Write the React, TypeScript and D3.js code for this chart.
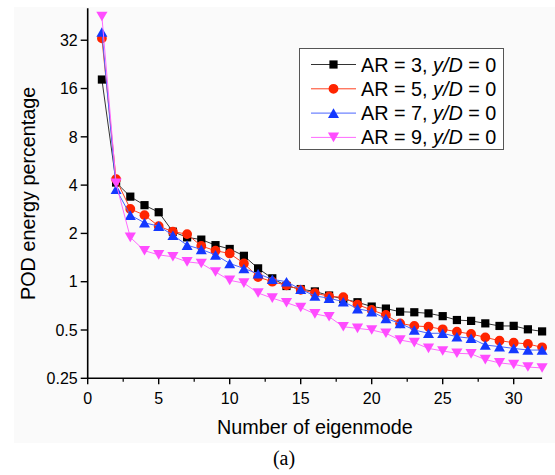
import React from "react";
import * as d3 from "d3";

// Eigenmode index (x) and POD energy percentage for each aspect ratio
const modes = [1, 2, 3, 4, 5, 6, 7, 8, 9, 10, 11, 12, 13, 14, 15, 16, 17, 18, 19, 20, 21, 22, 23, 24, 25, 26, 27, 28, 29, 30, 31, 32];

const ar3 = [18.2, 4.15, 3.39, 3.0, 2.71, 2.05, 1.89, 1.83, 1.69, 1.6, 1.45, 1.21, 1.05, 0.94, 0.9, 0.87, 0.82, 0.78, 0.745, 0.7, 0.68, 0.65, 0.645, 0.635, 0.61, 0.577, 0.57, 0.55, 0.53, 0.53, 0.505, 0.49];
const ar5 = [32.9, 4.35, 2.84, 2.6, 2.22, 2.05, 1.98, 1.67, 1.56, 1.5, 1.3, 1.07, 1.0, 0.95, 0.89, 0.85, 0.81, 0.8, 0.72, 0.666, 0.62, 0.55, 0.53, 0.524, 0.505, 0.488, 0.472, 0.45, 0.429, 0.417, 0.409, 0.39];
const ar7 = [36, 3.77, 2.6, 2.33, 2.22, 1.95, 1.69, 1.59, 1.47, 1.3, 1.21, 1.12, 1.035, 1.0, 0.897, 0.815, 0.79, 0.75, 0.68, 0.65, 0.59, 0.55, 0.5, 0.477, 0.477, 0.454, 0.444, 0.403, 0.394, 0.384, 0.375, 0.375];
const ar9 = [45, 4.1, 1.89, 1.56, 1.47, 1.43, 1.33, 1.3, 1.15, 1.02, 0.98, 0.85, 0.79, 0.74, 0.69, 0.63, 0.605, 0.524, 0.512, 0.5, 0.477, 0.433, 0.417, 0.384, 0.37, 0.358, 0.355, 0.327, 0.312, 0.305, 0.294, 0.29];

const aspectRatios = ["3", "5", "7", "9"];
const yTicks = [0.25, 0.5, 1, 2, 4, 8, 16, 32];
const xMajorTicks = [0, 5, 10, 15, 20, 25, 30];
const xMinorTicks = [2.5, 7.5, 12.5, 17.5, 22.5, 27.5];

type Shape = "square" | "circle" | "triangle" | "invTriangle";

const series: { values: number[]; ar: string; marker: string; line: string; shape: Shape }[] = [
  { values: ar3, ar: aspectRatios[0], marker: "#000000", line: "#333333", shape: "square" },
  { values: ar5, ar: aspectRatios[1], marker: "#ff2400", line: "#ff4020", shape: "circle" },
  { values: ar7, ar: aspectRatios[2], marker: "#1438ff", line: "#4a66ff", shape: "triangle" },
  { values: ar9, ar: aspectRatios[3], marker: "#ff4cff", line: "#ff6aff", shape: "invTriangle" },
];

const W = 555;
const H = 475;
const left = 87.7;
const right = 542.1;
const top = 8.3;
const bottom = 378.3;

const x = d3.scaleLinear().domain([0, 32]).range([left, right]);
const y = d3.scaleLog().base(2).domain([0.25, 50.6]).range([bottom, top]);

const FONT = "'Liberation Sans', Arial, Helvetica, sans-serif";

function markerPath(shape: Shape, cx: number, cy: number): string {
  if (shape === "square") {
    const h = 4.1;
    return `M${cx - h},${cy - h}h${2 * h}v${2 * h}h${-2 * h}Z`;
  }
  if (shape === "circle") {
    const r = 4.9;
    return `M${cx - r},${cy}a${r},${r} 0 1,0 ${2 * r},0a${r},${r} 0 1,0 ${-2 * r},0Z`;
  }
  if (shape === "triangle") {
    const w = 5.5;
    const h = 4.8;
    return `M${cx},${cy - h}L${cx + w},${cy + h}L${cx - w},${cy + h}Z`;
  }
  const w = 5.6;
  const h = 4.8;
  return `M${cx - w},${cy - h}L${cx + w},${cy - h}L${cx},${cy + h}Z`;
}

export default function App() {
  const line = d3
    .line<number>()
    .x((_, i) => x(modes[i]))
    .y((d) => y(d));

  const legendX = 299.5;
  const legendY = 48.5;
  const rowY = (i: number) => 64.5 + i * 24.3;

  return (
    <svg
      width={W}
      height={H}
      viewBox={`0 0 ${W} ${H}`}
      style={{ position: "absolute", left: 0, top: 0, background: "#ffffff" }}
    >
      <rect x={14} y={7} width={W - 14} height={436} fill="#fafafa" />

      {/* data series: lines then markers */}
      {series.map((s, si) => (
        <g key={si}>
          <path d={line(s.values) || ""} fill="none" stroke={s.line} strokeWidth={1} />
          {s.values.map((v, i) => (
            <path key={i} d={markerPath(s.shape, x(modes[i]), y(v))} fill={s.marker} />
          ))}
        </g>
      ))}

      {/* axes */}
      <line x1={left} y1={top} x2={left} y2={bottom} stroke="#000" strokeWidth={1.6} />
      <line x1={left} y1={bottom} x2={right} y2={bottom} stroke="#000" strokeWidth={1.6} />

      {yTicks.map((t) => (
        <g key={t}>
          <line x1={left - 7} x2={left} y1={y(t)} y2={y(t)} stroke="#000" strokeWidth={1.4} />
          <text
            x={left - 10}
            y={y(t)}
            dy="0.36em"
            textAnchor="end"
            fontFamily={FONT}
            fontSize={16}
            fill="#000"
          >
            {t}
          </text>
        </g>
      ))}

      {xMajorTicks.map((t) => (
        <g key={t}>
          <line x1={x(t)} x2={x(t)} y1={bottom} y2={bottom + 6} stroke="#000" strokeWidth={1.4} />
          <text x={x(t)} y={404.3} textAnchor="middle" fontFamily={FONT} fontSize={16} fill="#000">
            {t}
          </text>
        </g>
      ))}
      {xMinorTicks.map((t) => (
        <line key={t} x1={x(t)} x2={x(t)} y1={bottom} y2={bottom + 3.5} stroke="#000" strokeWidth={1.2} />
      ))}

      {/* axis titles */}
      <text
        x={(left + right) / 2}
        y={434.3}
        textAnchor="middle"
        fontFamily={FONT}
        fontSize={19.8}
        fill="#000"
      >
        Number of eigenmode
      </text>
      <text
        transform={`translate(35,${(top + bottom) / 2}) rotate(-90)`}
        textAnchor="middle"
        fontFamily={FONT}
        fontSize={19.8}
        fill="#000"
      >
        POD energy percentage
      </text>

      {/* legend */}
      <rect
        x={legendX}
        y={legendY}
        width={204}
        height={101}
        fill="#ffffff"
        stroke="#555555"
        strokeWidth={1}
      />
      {series.map((s, i) => (
        <g key={i}>
          <line x1={311} x2={356} y1={rowY(i)} y2={rowY(i)} stroke={s.line} strokeWidth={1} />
          <path d={markerPath(s.shape, 333.5, rowY(i))} fill={s.marker} />
          <text x={361} y={rowY(i) + 7} fontFamily={FONT} fontSize={19.8} fill="#000">
            {`AR = ${s.ar}, `}
            <tspan fontStyle="italic">y</tspan>
            <tspan fontStyle="italic">/D</tspan>
            {" = 0"}
          </text>
        </g>
      ))}

      {/* panel label */}
      <text
        x={284}
        y={465}
        textAnchor="middle"
        fontFamily="'Liberation Serif', 'Times New Roman', serif"
        fontSize={20}
        fill="#000"
      >
        (a)
      </text>
    </svg>
  );
}
